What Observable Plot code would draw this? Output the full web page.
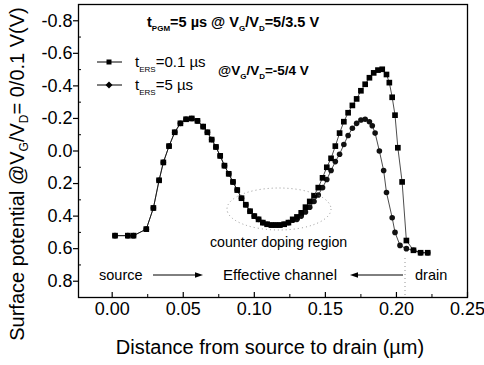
<!DOCTYPE html>
<html><head><meta charset="utf-8">
<script src="https://cdn.jsdelivr.net/npm/d3@7"></script>
<script src="https://cdn.jsdelivr.net/npm/@observablehq/plot@0.6"></script>
<style>body{margin:0;background:#fff} svg{font-family:"Liberation Sans",Arial,sans-serif}</style>
</head><body><div id="chart"></div>
<script>
// t_ERS = 0.1 µs (squares)
const xShort = [0.002,0.011,0.015,0.024,0.029,0.033,0.036,0.040,0.044,0.048,0.052,0.056,0.060,0.064,0.067,0.070,0.073,0.076,0.079,0.082,0.085,0.088,0.091,0.094,0.097,0.100,0.103,0.106,0.109,0.112,0.115,0.118,0.121,0.124,0.127,0.130,0.133,0.136,0.139,0.142,0.145,0.148,0.151,0.154,0.157,0.160,0.163,0.166,0.169,0.172,0.175,0.178,0.181,0.184,0.187,0.190,0.193,0.195,0.197,0.199,0.201,0.204,0.207,0.212,0.217,0.222];
const yShort = [0.52,0.52,0.52,0.48,0.35,0.18,0.07,-0.03,-0.115,-0.17,-0.195,-0.2,-0.185,-0.15,-0.115,-0.07,-0.025,0.03,0.09,0.14,0.19,0.24,0.29,0.33,0.37,0.40,0.42,0.44,0.45,0.455,0.455,0.455,0.45,0.44,0.42,0.405,0.38,0.345,0.31,0.275,0.225,0.165,0.10,0.045,-0.03,-0.11,-0.18,-0.235,-0.28,-0.32,-0.37,-0.41,-0.45,-0.48,-0.497,-0.502,-0.47,-0.42,-0.33,-0.22,-0.02,0.19,0.55,0.61,0.625,0.625];
// t_ERS = 5 µs (circles)
const xLong = [0.002,0.011,0.015,0.024,0.029,0.033,0.036,0.040,0.044,0.048,0.052,0.056,0.060,0.064,0.067,0.070,0.073,0.076,0.079,0.082,0.085,0.088,0.091,0.094,0.097,0.100,0.103,0.106,0.109,0.112,0.115,0.118,0.121,0.124,0.127,0.130,0.133,0.136,0.139,0.142,0.145,0.148,0.151,0.154,0.157,0.160,0.163,0.166,0.169,0.172,0.175,0.178,0.181,0.183,0.185,0.188,0.191,0.193,0.197,0.199,0.2025,0.207,0.212,0.217,0.222];
const yLong = [0.52,0.52,0.52,0.48,0.35,0.18,0.07,-0.03,-0.115,-0.17,-0.195,-0.2,-0.185,-0.15,-0.115,-0.07,-0.025,0.03,0.09,0.14,0.19,0.24,0.29,0.33,0.37,0.40,0.42,0.44,0.45,0.455,0.455,0.455,0.45,0.44,0.425,0.42,0.40,0.375,0.345,0.31,0.27,0.225,0.175,0.12,0.065,0.02,-0.04,-0.095,-0.14,-0.17,-0.19,-0.195,-0.18,-0.155,-0.11,0.0,0.12,0.255,0.41,0.50,0.58,0.60,0.61,0.625,0.625];
const xTicks = [0, 0.05, 0.10, 0.15, 0.20, 0.25];
const xMinor = [0.025, 0.075, 0.125, 0.175, 0.225];
const yTicks = [-0.8, -0.6, -0.4, -0.2, 0.0, 0.2, 0.4, 0.6, 0.8];
const yMinor = [-0.7, -0.5, -0.3, -0.1, 0.1, 0.3, 0.5, 0.7];

const shortData = xShort.map((x, i) => ({x, y: yShort[i]}));
const longData = xLong.map((x, i) => ({x, y: yLong[i]}));
const font = '"Liberation Sans", Arial, sans-serif';

const plot = Plot.plot({
  width: 484, height: 365,
  marginLeft: 78, marginRight: 17, marginTop: 4, marginBottom: 68,
  style: {fontFamily: font, fontSize: "18px", color: "#000", background: "#fff"},
  x: {domain: [-0.0237, 0.25]},
  y: {domain: [-0.9, 0.9], reverse: true},
  marks: [
    Plot.axisX({ticks: xTicks, tickSize: 0, tickPadding: 5, tickFormat: d => d.toFixed(2), fontSize: 18, label: null}),
    Plot.tickX(xTicks, {x: d => d, insetTop: 288, stroke: "#000", strokeWidth: 1.2}),
    Plot.tickX(xMinor, {x: d => d, insetTop: 290, stroke: "#000"}),
    Plot.axisY({ticks: yTicks, tickSize: 5, tickPadding: 1, tickFormat: d => d.toFixed(1), fontSize: 18, label: null, strokeWidth: 1.2}),
    Plot.tickY(yMinor, {y: d => d, insetRight: 386, stroke: "#000"}),
    Plot.line(longData, {x: "x", y: "y", stroke: "#000", strokeWidth: 0.7}),
    Plot.dot(longData, {x: "x", y: "y", symbol: "circle", r: 2.8, fill: "#111"}),
    Plot.line(shortData, {x: "x", y: "y", stroke: "#000", strokeWidth: 0.7}),
    Plot.dot(shortData, {x: "x", y: "y", symbol: "square", r: 3.2, fill: "#000"}),
    Plot.frame({stroke: "#000", strokeWidth: 1.3})
  ]
});
document.getElementById("chart").appendChild(plot);

const svg = d3.select(plot);
function rich(x, y, parts, {size = 14, subSize = 8, shift = 4, weight = "normal", anchor = "start", rotate = null} = {}) {
  const t = svg.append("text").attr("font-family", font).attr("font-size", size)
    .attr("font-weight", weight).attr("fill", "#000").attr("text-anchor", anchor);
  if (rotate != null) t.attr("transform", `translate(${x},${y}) rotate(${rotate})`);
  else t.attr("x", x).attr("y", y);
  let down = false;
  for (const [s, sub] of parts) {
    const ts = t.append("tspan").text(s);
    if (sub) { ts.attr("font-size", subSize); if (!down) { ts.attr("dy", shift); down = true; } }
    else if (down) { ts.attr("dy", -shift); down = false; }
  }
  return t;
}

// axis titles
rich(24, 174, [["Surface potential @V"], ["G", 1], ["/V"], ["D", 1], ["= 0/0.1 V(V)"]],
  {size: 20, subSize: 12, shift: 4, anchor: "middle", rotate: -90});
rich(270, 354, [["Distance from source to drain (\u00b5m)"]], {size: 20, anchor: "middle"});

// top annotation
rich(147, 27, [["t"], ["PGM", 1], ["=5 \u00b5s @ V"], ["G", 1], ["/V"], ["D", 1], ["=5/3.5 V"]],
  {size: 14.5, subSize: 8, shift: 4, weight: "bold"});
rich(218, 75, [["@V"], ["G", 1], ["/V"], ["D", 1], ["=-5/4 V"]],
  {size: 13.5, subSize: 8, shift: 4, weight: "bold"});

// legend
const leg = svg.append("g");
leg.append("line").attr("x1", 97).attr("x2", 122).attr("y1", 62).attr("y2", 62).attr("stroke", "#000").attr("stroke-width", 1);
leg.append("rect").attr("x", 106.5).attr("y", 59.5).attr("width", 5).attr("height", 5).attr("fill", "#000");
leg.append("line").attr("x1", 97).attr("x2", 122).attr("y1", 85).attr("y2", 85).attr("stroke", "#000").attr("stroke-width", 1);
leg.append("path").attr("d", "M109,81.5L112.5,85L109,88.5L105.5,85Z").attr("fill", "#000");
rich(135, 67, [["t"], ["ERS", 1], ["=0.1 \u00b5s"]], {size: 15, subSize: 8, shift: 5});
rich(135, 90, [["t"], ["ERS", 1], ["=5 \u00b5s"]], {size: 15, subSize: 8, shift: 5});

// counter doping region
svg.append("ellipse").attr("cx", 279).attr("cy", 209).attr("rx", 52).attr("ry", 21)
  .attr("fill", "none").attr("stroke", "#888").attr("stroke-width", 0.9).attr("stroke-dasharray", "1,3");
rich(210, 247, [["counter doping region"]], {size: 14.2});
svg.append("line").attr("x1", 405).attr("x2", 405).attr("y1", 258).attr("y2", 297)
  .attr("stroke", "#888").attr("stroke-width", 0.9).attr("stroke-dasharray", "1,3");

// bottom labels and arrows
rich(99, 280, [["source"]], {size: 14.5});
rich(223, 280, [["Effective channel"]], {size: 15});
rich(415, 280, [["drain"]], {size: 14.5});
const arr = svg.append("g").attr("stroke", "#000").attr("fill", "#000");
arr.append("line").attr("x1", 153).attr("x2", 197).attr("y1", 275).attr("y2", 275).attr("stroke-width", 1);
arr.append("path").attr("d", "M203,275L195,272.3L195,277.7Z").attr("stroke", "none");
arr.append("line").attr("x1", 403).attr("x2", 356).attr("y1", 275).attr("y2", 275).attr("stroke-width", 1);
arr.append("path").attr("d", "M350,275L358,272.3L358,277.7Z").attr("stroke", "none");
</script>
</body></html>
